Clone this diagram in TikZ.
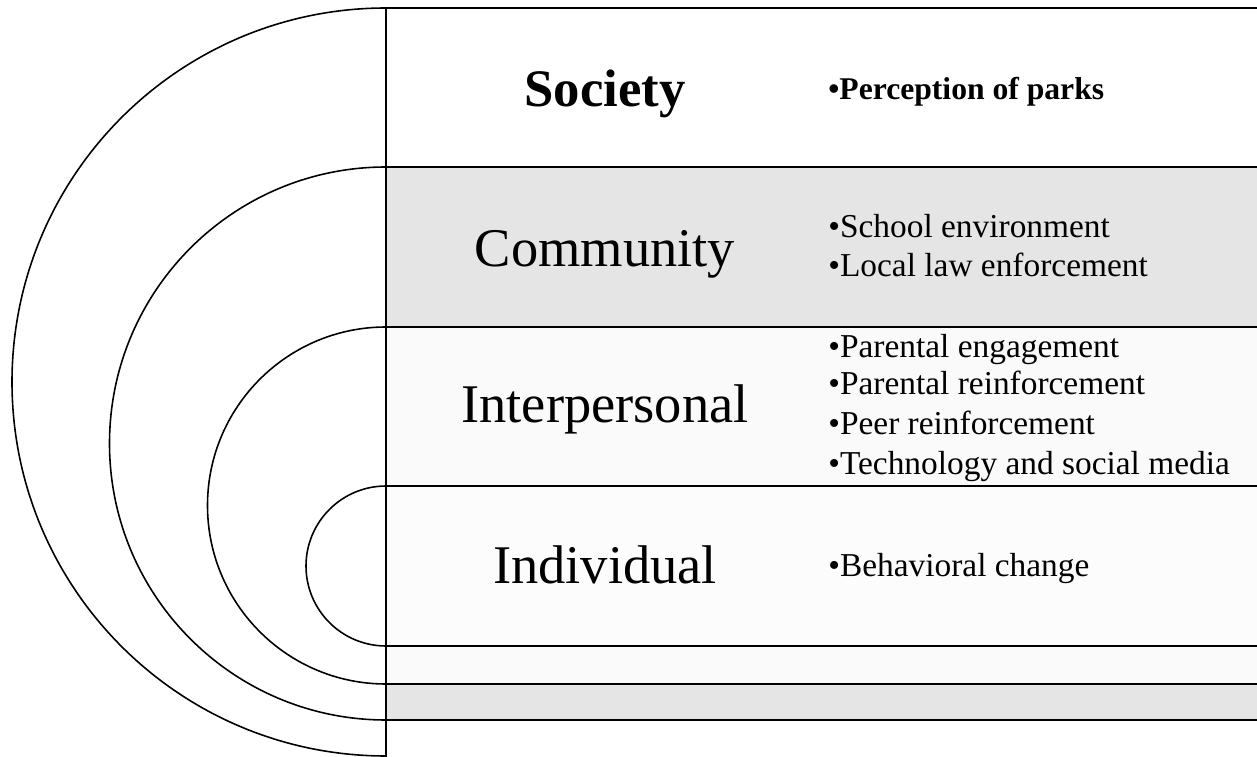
\documentclass[tikz,border=0pt]{standalone}
\usepackage{fontspec}
\setmainfont{Liberation Serif}
\usetikzlibrary{positioning}

\begin{document}
\begin{tikzpicture}[
    ringline/.style={draw, line width=0.9pt},
    rule/.style={draw, line width=1.1pt},
    grayband/.style={fill=gray!20},
    paleband/.style={fill=black!2},
    levelname/.style={anchor=base, inner sep=0pt, font=\fontsize{31}{36}\selectfont},
    itemtext/.style={anchor=base west, inner sep=0pt, font=\fontsize{19}{22}\selectfont}
]

\useasboundingbox (0,0) rectangle (25.14,15.12);

% Shaded bands
\fill[grayband] (7.72,11.78) rectangle (25.2,8.58);
\fill[paleband] (7.72,8.58) rectangle (25.2,5.40);
\fill[black!1] (7.72,5.40) rectangle (25.2,2.20);
\fill[paleband] (7.72,2.20) rectangle (25.2,1.44);
\fill[grayband] (7.72,1.44) rectangle (25.2,0.72);

% Half rings
\draw[ringline] (7.72,14.96) arc[start angle=90, end angle=270, radius=7.48];
\draw[ringline] (7.72,11.78) arc[start angle=90, end angle=270, radius=5.53];
\draw[ringline] (7.72,8.58) arc[start angle=90, end angle=270, radius=3.57];
\draw[ringline] (7.72,5.40) arc[start angle=90, end angle=270, radius=1.60];

% Band borders
\foreach \y in {14.96,11.78,8.58,5.40,2.20,1.44,0.72}
    \draw[rule] (7.72,\y) -- (25.2,\y);
\draw[rule] (7.72,14.96) -- (7.72,-0.1);

% Society
\node[levelname, font=\fontsize{30}{36}\selectfont\bfseries] (society) at (12.1,12.98) {Society};
\node[itemtext, font=\fontsize{18}{22}\selectfont\bfseries] (soc1) at (16.56,13.12) {•Perception of parks};

% Community
\node[levelname] (community) at (12.1,9.78) {Community};
\node[itemtext] (com1) at (16.56,10.36) {•School environment};
\node[itemtext] (com2) at (16.56,9.58) {•Local law enforcement};

% Interpersonal
\node[levelname] (interpersonal) at (12.1,6.66) {Interpersonal};
\foreach \y/\txt/\nm in {7.96/Parental engagement/int1, 7.22/Parental reinforcement/int2,
    6.42/Peer reinforcement/int3, 5.62/Technology and social media/int4}
    \node[itemtext] (\nm) at (16.56,\y) {•\txt};

% Individual
\node[levelname] (individual) at (12.1,3.46) {Individual};
\node[itemtext] (ind1) at (16.56,3.58) {•Behavioral change};

\end{tikzpicture}
\end{document}
